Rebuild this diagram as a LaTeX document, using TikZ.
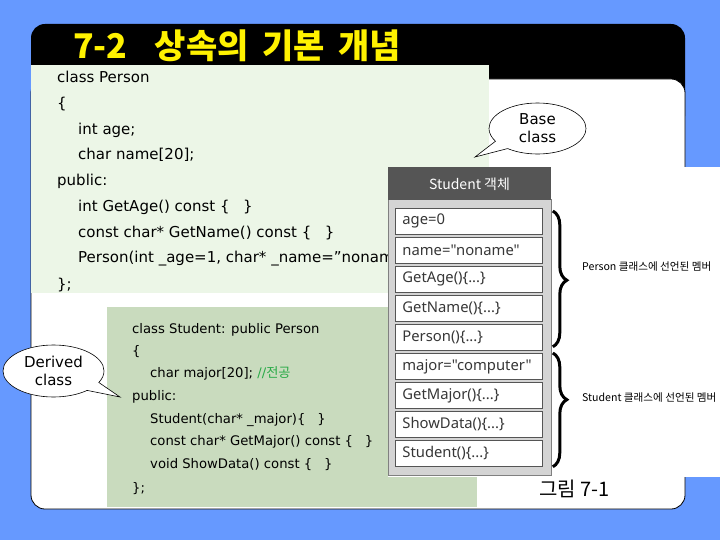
\documentclass[tikz,border=0pt]{standalone}
\usepackage{fontspec}
\setmainfont{DejaVu Sans}
\newfontfamily\krfont{Noto Sans CJK KR}
\newfontfamily\boxfont{Noto Sans}
\usetikzlibrary{shapes.geometric,shapes.callouts,decorations.pathreplacing}

\definecolor{slideblue}{RGB}{102,153,255}
\definecolor{codegreen}{RGB}{236,246,231}
\definecolor{codegreendk}{RGB}{201,219,190}
\definecolor{panelgray}{RGB}{85,85,85}
\definecolor{panelbody}{RGB}{212,212,212}
\definecolor{membertext}{RGB}{55,55,55}
\definecolor{commentgreen}{RGB}{40,170,70}

\newcommand\bodydots{\{...\}}

\tikzset{
  codeA/.style={anchor=base west, inner sep=0pt, font=\fontsize{15bp}{17bp}\selectfont},
  codeB/.style={anchor=base west, inner sep=0pt, font=\fontsize{13.2bp}{15bp}\selectfont},
  member/.style={draw=panelgray, fill=white, line width=0.8bp, anchor=north west,
    text width=133bp, inner xsep=7bp, inner ysep=0pt, minimum height=26bp, align=left,
    text=membertext, font=\boxfont\fontsize{14.8bp}{16bp}\selectfont},
  bubble/.style={ellipse callout, draw, fill=white, line width=0.6bp, align=center,
    inner sep=0pt, callout pointer arc=22, font=\fontsize{15bp}{18bp}\selectfont},
  bracelabel/.style={anchor=west, inner sep=0pt, font=\krfont\fontsize{10.6bp}{12bp}\selectfont},
  memberbrace/.style={decorate, decoration={brace, amplitude=14bp, aspect=#1}}
}

\begin{document}
\begin{tikzpicture}[x=1bp, y=-1bp]
  \useasboundingbox (0,0) rectangle (720,540);
  \clip (0,0) rectangle (720,540);
  % 배경과 슬라이드 틀
  \fill[slideblue] (0,0) rectangle (720,540);
  \fill[black, rounded corners=14bp] (31,24) rectangle (685,130);
  \draw[fill=white, rounded corners=14bp, line width=0.8bp] (31,79) rectangle (685,509);
  \node[anchor=base west, inner sep=0pt, text=yellow, font=\krfont\bfseries\fontsize{34bp}{36bp}\selectfont]
    (title) at (73,59) {7-2\hspace{0.8em}상속의\hspace{0.4em}기본\hspace{0.4em}개념};

  % Person 코드
  \fill[codegreen] (31,65) rectangle (489,293);
  \node[codeA] (p1) at (57,83) {class Person};
  \node[codeA] (p2) at (57,109) {\{};
  \node[codeA] (p3) at (78,135) {int age;};
  \node[codeA] (p4) at (78,160) {char name[20];};
  \node[codeA] (p5) at (57,186) {public:};
  \node[codeA] (p6) at (78,212) {int GetAge() const \{\hspace{0.9em}\}};
  \node[codeA] (p7) at (78,238) {const char* GetName() const \{\hspace{0.9em}\}};
  \node[codeA] (p8) at (78,263) {Person(int \_age=1, char* \_name="nonam};
  \node[codeA] (p9) at (57,289) {\};};

  % Student 코드
  \fill[codegreendk] (107,307) rectangle (477,507);
  \node[codeB] (s1) at (132,333) {class Student: public Person};
  \node[codeB] (s2) at (132,355) {\{};
  \node[codeB] (s3) at (150,377) {char major[20]; {\color{commentgreen}//\krfont 전공}};
  \node[codeB] (s4) at (132,400) {public:};
  \node[codeB] (s5) at (150,423) {Student(char* \_major)\{\hspace{0.9em}\}};
  \node[codeB] (s6) at (150,445) {const char* GetMajor() const \{\hspace{0.9em}\}};
  \node[codeB] (s7) at (150,468) {void ShowData() const \{\hspace{0.9em}\}};
  \node[codeB] (s8) at (132,492) {\};};

  % Student 객체 그림
  \fill[white] (388,167) rectangle (720,477);
  \draw[draw=gray, fill=panelbody, line width=1bp] (388,200) rectangle (551,475);
  \fill[panelgray] (388,167) rectangle (551,200);
  \node[text=white, font=\krfont\fontsize{14bp}{16bp}\selectfont] (head) at (469.5,184) {Student 객체};
  \foreach \t [count=\i] in {age=0, name="noname", GetAge()\bodydots, GetName()\bodydots,
      Person()\bodydots, major="computer", GetMajor()\bodydots, ShowData()\bodydots, Student()\bodydots}
    \node[member] (m\i) at (395,{208+29*(\i-1)}) {\t};
  \draw[memberbrace=0.51, line width=3bp] ([xshift=10bp,yshift=-3bp]m1.north east) -- ([xshift=10bp,yshift=4bp]m5.south east);
  \draw[memberbrace=0.41, line width=3bp] ([xshift=10bp]m6.north east) -- ([xshift=10bp]m9.south east);
  \node[bracelabel] (plabel) at (582,267) {Person 클래스에 선언된 멤버};
  \node[bracelabel] (slabel) at (582,398) {Student 클래스에 선언된 멤버};
  \node[anchor=base west, inner sep=0pt, font=\krfont\fontsize{20bp}{22bp}\selectfont] (fig) at (539,496) {그림 7-1};

  % 말풍선
  \coordinate (basetip) at (475,157);
  \node[bubble, minimum width=97bp, minimum height=51bp, callout absolute pointer={(basetip)}]
    (base) at (537.5,128.5) {Base\\class};
  \coordinate (derivedtip) at (120,397);
  \node[bubble, minimum width=101bp, minimum height=52bp, callout absolute pointer={(derivedtip)}]
    (derived) at (53.5,371) {Derived\\class};
\end{tikzpicture}
\end{document}
